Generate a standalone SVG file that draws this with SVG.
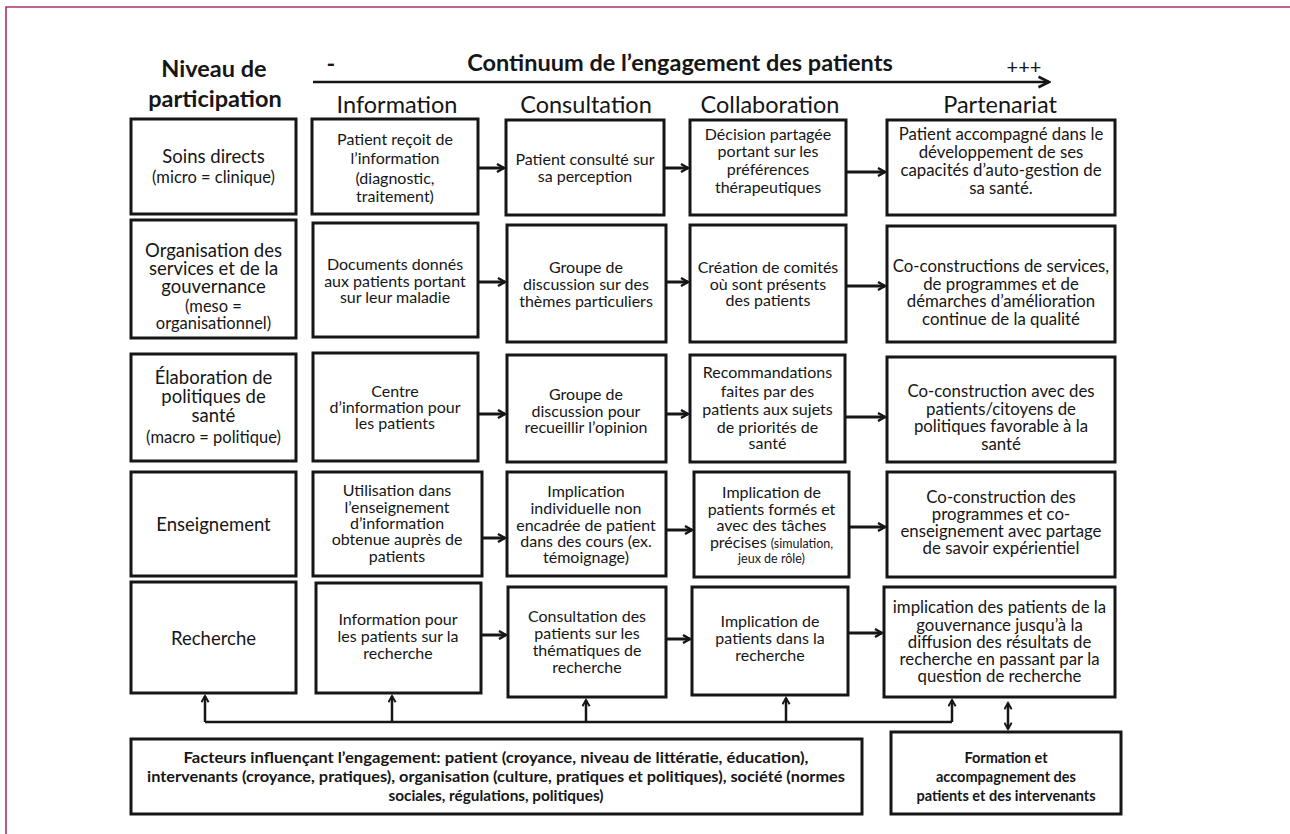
<svg xmlns="http://www.w3.org/2000/svg" width="1290" height="834" viewBox="0 0 1290 834">
<defs>
<style>
.bg{fill:#fff}
.frame{fill:none;stroke:#b0306e;stroke-width:1.6}
.box{fill:#fff;stroke:#161616;stroke-width:3}
text{font-family:Lato,"Liberation Sans",sans-serif;fill:#161616;text-anchor:middle}
.h{font-weight:bold;font-size:23.5px}
.col{font-size:23.5px}
.lab{font-size:18.5px}
.sm{font-size:16.5px}
.t{font-size:16px}
.p{font-size:16.8px}
.xs{font-size:12.5px}
.fb{font-weight:bold;font-size:14.5px}
.con{fill:none;stroke:#161616;stroke-width:3}
.bus{fill:none;stroke:#161616;stroke-width:2.5}
</style>
<marker id="ah" viewBox="0 0 10 10" refX="8" refY="5" markerWidth="10" markerHeight="10" markerUnits="userSpaceOnUse" orient="auto-start-reverse">
<path d="M1,1 L8,5 L1,9" fill="none" stroke="#161616" stroke-width="2.4"/>
</marker>
<marker id="ahv" viewBox="0 0 10 10" refX="8" refY="5" markerWidth="9" markerHeight="9" markerUnits="userSpaceOnUse" orient="auto-start-reverse">
<path d="M1,1 L8,5 L1,9" fill="none" stroke="#161616" stroke-width="2.2"/>
</marker>
<marker id="big" viewBox="0 0 12 12" refX="10" refY="6" markerWidth="14" markerHeight="14" markerUnits="userSpaceOnUse" orient="auto">
<path d="M1,1.5 L10,6 L1,10.5" fill="none" stroke="#161616" stroke-width="2.2"/>
</marker>
</defs>
<rect class="bg" x="0" y="0" width="1290" height="834"/>
<path class="frame" d="M6,834 V7 H1290"/>

<g id="header">
<text class="h" x="214" y="77">Niveau de</text>
<text class="h" x="215" y="107">participation</text>
<text class="h" x="680" y="71">Continuum de l’engagement des patients</text>
<text class="h" x="331" y="72">-</text>
<text x="1024" y="74" style="font-size:20px">+++</text>
<line x1="313" y1="82" x2="1049" y2="82" stroke="#161616" stroke-width="2.5" marker-end="url(#big)"/>
<text class="col" x="397" y="113">Information</text>
<text class="col" x="586" y="113">Consultation</text>
<text class="col" x="770" y="113">Collaboration</text>
<text class="col" x="1000" y="113">Partenariat</text>
</g>

<g id="soins-directs"><rect class="box" x="131" y="119" width="165" height="95"/>
<text class="lab" x="213.5" y="163">Soins directs</text>
<text class="sm" x="213.5" y="183">(micro = clinique)</text></g>
<g id="organisation"><rect class="box" x="131" y="220" width="165" height="118"/>
<text class="lab" x="213.5" y="257">Organisation des</text>
<text class="lab" x="213.5" y="275">services et de la</text>
<text class="lab" x="213.5" y="293">gouvernance</text>
<text class="sm" x="213.5" y="312">(meso =</text>
<text class="sm" x="213.5" y="329">organisationnel)</text></g>
<g id="elaboration"><rect class="box" x="131" y="354" width="165" height="107"/>
<text class="lab" x="213.5" y="384">Élaboration de</text>
<text class="lab" x="213.5" y="403">politiques de</text>
<text class="lab" x="213.5" y="422">santé</text>
<text class="sm" x="213.5" y="443">(macro = politique)</text></g>
<g id="enseignement"><rect class="box" x="131" y="472" width="165" height="104"/>
<text class="lab" x="213.5" y="531">Enseignement</text></g>
<g id="recherche"><rect class="box" x="131" y="582" width="165" height="111"/>
<text class="lab" x="213.5" y="645">Recherche</text></g>

<g id="info-1"><rect class="box" x="312" y="119" width="166" height="95"/>
<text class="t" x="395" y="145">Patient reçoit de</text>
<text class="t" x="395" y="164">l’information</text>
<text class="t" x="395" y="184">(diagnostic,</text>
<text class="t" x="395" y="202">traitement)</text></g>
<g id="info-2"><rect class="box" x="313" y="223" width="165" height="114"/>
<text class="t" x="395" y="270">Documents donnés</text>
<text class="t" x="395" y="287">aux patients portant</text>
<text class="t" x="395" y="303">sur leur maladie</text></g>
<g id="info-3"><rect class="box" x="313" y="353" width="165" height="108"/>
<text class="t" x="395" y="397">Centre</text>
<text class="t" x="395" y="413">d’information pour</text>
<text class="t" x="395" y="429">les patients</text></g>
<g id="info-4"><rect class="box" x="313" y="472" width="169" height="104"/>
<text class="t" x="397" y="496">Utilisation dans</text>
<text class="t" x="397" y="513">l’enseignement</text>
<text class="t" x="397" y="529">d’information</text>
<text class="t" x="397" y="545">obtenue auprès de</text>
<text class="t" x="397" y="562">patients</text></g>
<g id="info-5"><rect class="box" x="316" y="583" width="165" height="110"/>
<text class="t" x="398" y="625">Information pour</text>
<text class="t" x="398" y="642">les patients sur la</text>
<text class="t" x="398" y="659">recherche</text></g>

<g id="consult-1"><rect class="box" x="506" y="120" width="158" height="95"/>
<text class="t" x="585" y="165">Patient consulté sur</text>
<text class="t" x="585" y="182">sa perception</text></g>
<g id="consult-2"><rect class="box" x="507" y="225" width="159" height="117"/>
<text class="t" x="586" y="273">Groupe de</text>
<text class="t" x="586" y="290">discussion sur des</text>
<text class="t" x="586" y="307">thèmes particuliers</text></g>
<g id="consult-3"><rect class="box" x="507" y="355" width="159" height="107"/>
<text class="t" x="586" y="400">Groupe de</text>
<text class="t" x="586" y="417">discussion pour</text>
<text class="t" x="586" y="433">recueillir l’opinion</text></g>
<g id="consult-4"><rect class="box" x="507" y="472" width="159" height="104"/>
<text class="t" x="586" y="497">Implication</text>
<text class="t" x="586" y="514">individuelle non</text>
<text class="t" x="586" y="531">encadrée de patient</text>
<text class="t" x="586" y="547">dans des cours (ex.</text>
<text class="t" x="586" y="563">témoignage)</text></g>
<g id="consult-5"><rect class="box" x="508" y="587" width="158" height="110"/>
<text class="t" x="587" y="622">Consultation des</text>
<text class="t" x="587" y="639">patients sur les</text>
<text class="t" x="587" y="656">thématiques de</text>
<text class="t" x="587" y="673">recherche</text></g>

<g id="collab-1"><rect class="box" x="690" y="120" width="156" height="95"/>
<text class="t" x="768" y="140">Décision partagée</text>
<text class="t" x="768" y="157">portant sur les</text>
<text class="t" x="768" y="175">préférences</text>
<text class="t" x="768" y="193">thérapeutiques</text></g>
<g id="collab-2"><rect class="box" x="690" y="225" width="156" height="117"/>
<text class="t" x="768" y="273">Création de comités</text>
<text class="t" x="768" y="290">où sont présents</text>
<text class="t" x="768" y="306">des patients</text></g>
<g id="collab-3"><rect class="box" x="690" y="355" width="155" height="107"/>
<text class="t" x="767.5" y="378">Recommandations</text>
<text class="t" x="767.5" y="397">faites par des</text>
<text class="t" x="767.5" y="415">patients aux sujets</text>
<text class="t" x="767.5" y="433">de priorités de</text>
<text class="t" x="767.5" y="449">santé</text></g>
<g id="collab-4"><rect class="box" x="694" y="472" width="155" height="105"/>
<text class="t" x="771.5" y="498">Implication de</text>
<text class="t" x="771.5" y="515">patients formés et</text>
<text class="t" x="771.5" y="531">avec des tâches</text>
<text class="t" x="771.5" y="548">précises <tspan class="xs">(simulation,</tspan></text>
<text class="xs" x="771.5" y="563">jeux de rôle)</text></g>
<g id="collab-5"><rect class="box" x="692" y="587" width="156" height="108"/>
<text class="t" x="770" y="627">Implication de</text>
<text class="t" x="770" y="644">patients dans la</text>
<text class="t" x="770" y="661">recherche</text></g>

<g id="part-1"><rect class="box" x="887" y="120" width="228" height="95"/>
<text class="p" x="1001" y="140">Patient accompagné dans le</text>
<text class="p" x="1001" y="158">développement de ses</text>
<text class="p" x="1001" y="176">capacités d’auto-gestion de</text>
<text class="p" x="1001" y="194">sa santé.</text></g>
<g id="part-2"><rect class="box" x="887" y="226" width="228" height="116"/>
<text class="p" x="1001" y="272">Co-constructions de services,</text>
<text class="p" x="1001" y="290">de programmes et de</text>
<text class="p" x="1001" y="307">démarches d’amélioration</text>
<text class="p" x="1001" y="325">continue de la qualité</text></g>
<g id="part-3"><rect class="box" x="887" y="357" width="228" height="105"/>
<text class="p" x="1001" y="397">Co-construction avec des</text>
<text class="p" x="1001" y="415">patients/citoyens de</text>
<text class="p" x="1001" y="432">politiques favorable à la</text>
<text class="p" x="1001" y="450">santé</text></g>
<g id="part-4"><rect class="box" x="887" y="472" width="228" height="105"/>
<text class="p" x="1001" y="503">Co-construction des</text>
<text class="p" x="1001" y="520">programmes et co-</text>
<text class="p" x="1001" y="537">enseignement avec partage</text>
<text class="p" x="1001" y="554">de savoir expérientiel</text></g>
<g id="part-5"><rect class="box" x="884" y="587" width="231" height="110"/>
<text class="p" x="999.5" y="613">implication des patients de la</text>
<text class="p" x="999.5" y="631">gouvernance jusqu’à la</text>
<text class="p" x="999.5" y="648">diffusion des résultats de</text>
<text class="p" x="999.5" y="665">recherche en passant par la</text>
<text class="p" x="999.5" y="682">question de recherche</text></g>

<g id="facteurs"><rect class="box" x="131" y="739" width="731" height="75"/>
<text class="fb" x="496" y="763" textLength="625" lengthAdjust="spacingAndGlyphs">Facteurs influençant l’engagement: patient (croyance, niveau de littératie, éducation),</text>
<text class="fb" x="496" y="782" textLength="698" lengthAdjust="spacingAndGlyphs">intervenants (croyance, pratiques), organisation (culture, pratiques et politiques), société (normes</text>
<text class="fb" x="496" y="801" textLength="215" lengthAdjust="spacingAndGlyphs">sociales, régulations, politiques)</text></g>
<g id="formation"><rect class="box" x="891" y="732" width="230" height="82"/>
<text class="fb" x="1006" y="763">Formation et</text>
<text class="fb" x="1006" y="782">accompagnement des</text>
<text class="fb" x="1006" y="801">patients et des intervenants</text></g>

<g id="connectors">
<line class="con" x1="479" y1="168" x2="504" y2="168" marker-end="url(#ah)"/>
<line class="con" x1="665" y1="168" x2="688" y2="168" marker-end="url(#ah)"/>
<line class="con" x1="847" y1="172" x2="885" y2="172" marker-end="url(#ah)"/>
<line class="con" x1="479" y1="282" x2="505" y2="282" marker-end="url(#ah)"/>
<line class="con" x1="667" y1="282" x2="688" y2="282" marker-end="url(#ah)"/>
<line class="con" x1="847" y1="286" x2="885" y2="286" marker-end="url(#ah)"/>
<line class="con" x1="479" y1="414" x2="505" y2="414" marker-end="url(#ah)"/>
<line class="con" x1="667" y1="414" x2="688" y2="414" marker-end="url(#ah)"/>
<line class="con" x1="846" y1="417" x2="885" y2="417" marker-end="url(#ah)"/>
<line class="con" x1="483" y1="538" x2="505" y2="538" marker-end="url(#ah)"/>
<line class="con" x1="667" y1="530" x2="692" y2="530" marker-end="url(#ah)"/>
<line class="con" x1="850" y1="527" x2="885" y2="527" marker-end="url(#ah)"/>
<line class="con" x1="482" y1="635" x2="506" y2="635" marker-end="url(#ah)"/>
<line class="con" x1="667" y1="639" x2="690" y2="639" marker-end="url(#ah)"/>
<line class="con" x1="849" y1="633" x2="882" y2="633" marker-end="url(#ah)"/>
<path class="bus" d="M205,722 H952"/>
<line class="bus" x1="205" y1="722" x2="205" y2="696" marker-end="url(#ahv)"/>
<line class="bus" x1="392" y1="722" x2="392" y2="696" marker-end="url(#ahv)"/>
<line class="bus" x1="586" y1="722" x2="586" y2="700" marker-end="url(#ahv)"/>
<line class="bus" x1="786" y1="722" x2="786" y2="698" marker-end="url(#ahv)"/>
<line class="bus" x1="952" y1="722" x2="952" y2="700" marker-end="url(#ahv)"/>
<line class="bus" x1="1008" y1="703" x2="1008" y2="729" marker-start="url(#ahv)" marker-end="url(#ahv)"/>
</g>
</svg>
